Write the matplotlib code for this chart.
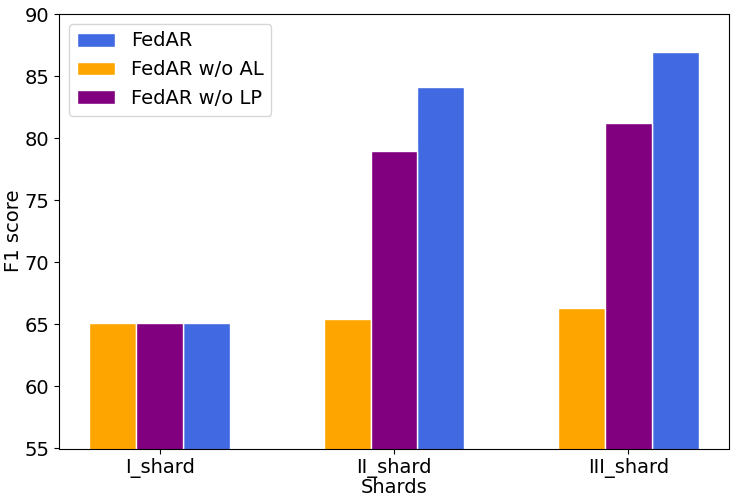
import matplotlib
matplotlib.use("Agg")
from matplotlib import pyplot as plt
import numpy as np

shards = ["I_shard", "II_shard", "III_shard"]
fedar = [65.1, 84.1, 86.9]
fedar_wo_al = [65.1, 65.4, 66.3]
fedar_wo_lp = [65.1, 79.0, 81.2]

plt.rcParams['font.size'] = 14
fig = plt.figure(figsize=(7.36, 5.03), dpi=100)
ax = fig.add_axes([59 / 736, 1 - 448.5 / 503, 670 / 736, 434.5 / 503])

x = np.arange(len(shards))
w = 0.2
ax.bar(x + w, fedar, w, color="royalblue", edgecolor="white", label="FedAR")
ax.bar(x - w, fedar_wo_al, w, color="orange", edgecolor="white", label="FedAR w/o AL")
ax.bar(x, fedar_wo_lp, w, color="purple", edgecolor="white", label="FedAR w/o LP")

ax.set_ylim(55, 90)
ax.set_xticks(x)
ax.set_xticklabels(shards)
ax.set_xlabel("Shards", labelpad=0)
ax.set_ylabel("F1 score", labelpad=1)
ax.legend(loc="upper left")

fig.savefig("out.png", dpi=100)
